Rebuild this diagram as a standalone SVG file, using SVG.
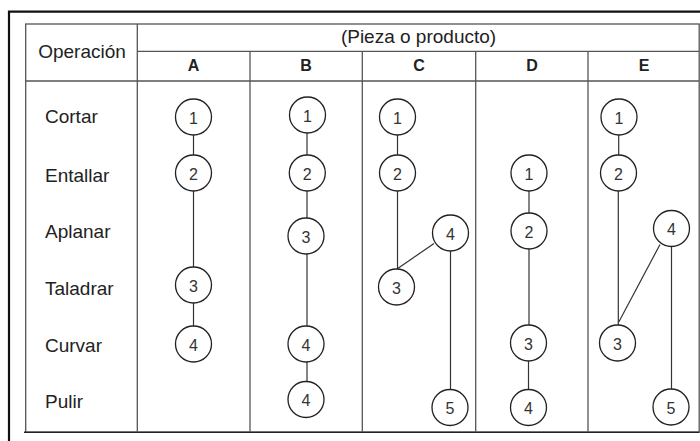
<svg xmlns="http://www.w3.org/2000/svg" width="700" height="441" viewBox="0 0 700 441">
<style>
.frame{fill:none;stroke:#111;stroke-width:2.2}
.grid{fill:none;stroke:#555;stroke-width:1.3}
.lbl{font-family:"Liberation Sans",Arial,sans-serif;font-size:19px;fill:#222}
.hdr{font-family:"Liberation Sans",Arial,sans-serif;font-size:16px;font-weight:bold;fill:#222;text-anchor:middle}
.node circle{fill:#fff;stroke:#222;stroke-width:1.3}
.node text{font-family:"Liberation Sans",Arial,sans-serif;font-size:16px;fill:#333;text-anchor:middle;dominant-baseline:central}
.conn line{stroke:#333;stroke-width:1.2}
</style>
<rect width="700" height="441" fill="#fff"/>
<path class="frame" d="M9,441 V11.7 H700"/>
<g id="table">
<rect class="grid" x="25.7" y="24" width="673.5" height="408.3"/>
<line class="grid" x1="24" y1="432.3" x2="699" y2="432.3" style="stroke:#222;stroke-width:1.6"/>
<line class="grid" x1="137.3" y1="24" x2="137.3" y2="432.3"/>
<line class="grid" x1="137.3" y1="51.3" x2="699" y2="51.3"/>
<line class="grid" x1="25.7" y1="81" x2="699" y2="81"/>
<line class="grid" x1="250" y1="51.3" x2="250" y2="432.3"/>
<line class="grid" x1="362.3" y1="51.3" x2="362.3" y2="432.3"/>
<line class="grid" x1="475.7" y1="51.3" x2="475.7" y2="432.3"/>
<line class="grid" x1="588" y1="51.3" x2="588" y2="432.3"/>
</g>
<g id="headers">
<text class="lbl" x="82" y="57.5" text-anchor="middle">Operación</text>
<text class="lbl" x="418.5" y="42.7" text-anchor="middle">(Pieza o producto)</text>
<text class="hdr" x="193.5" y="70.7">A</text>
<text class="hdr" x="306" y="70.7">B</text>
<text class="hdr" x="419" y="70.7">C</text>
<text class="hdr" x="532" y="70.7">D</text>
<text class="hdr" x="644" y="70.7">E</text>
</g>
<g id="rows">
<text class="lbl" x="45" y="122.5">Cortar</text>
<text class="lbl" x="45" y="181.5">Entallar</text>
<text class="lbl" x="45" y="238">Aplanar</text>
<text class="lbl" x="45" y="295">Taladrar</text>
<text class="lbl" x="45" y="351.5">Curvar</text>
<text class="lbl" x="45" y="407.5">Pulir</text>
</g>
<g id="connectors" class="conn">
<line x1="193.5" y1="135" x2="193.5" y2="155"/>
<line x1="193.5" y1="191" x2="193.5" y2="267"/>
<line x1="193.5" y1="303" x2="193.5" y2="326"/>
<line x1="307" y1="133" x2="307" y2="155"/>
<line x1="307" y1="191" x2="307" y2="218"/>
<line x1="307" y1="254" x2="307" y2="326"/>
<line x1="307" y1="362" x2="307" y2="381"/>
<line x1="397.5" y1="135" x2="397.5" y2="155"/>
<line x1="397.5" y1="191" x2="397.5" y2="269"/>
<line x1="397" y1="269" x2="434" y2="243.5"/>
<line x1="450.5" y1="251" x2="450.5" y2="389"/>
<line x1="529" y1="191" x2="529" y2="213"/>
<line x1="529" y1="249" x2="529" y2="325"/>
<line x1="528.5" y1="361" x2="528.5" y2="389"/>
<line x1="618.7" y1="135" x2="618.7" y2="155"/>
<line x1="618.3" y1="191" x2="618.3" y2="325"/>
<line x1="618.8" y1="322" x2="660" y2="244.5"/>
<line x1="671.5" y1="246" x2="671.5" y2="389"/>
</g>
<g id="A1" class="node"><circle cx="193.5" cy="117" r="18"/><text x="193.5" y="118">1</text></g>
<g id="A2" class="node"><circle cx="193.5" cy="173" r="18"/><text x="193.5" y="174">2</text></g>
<g id="A3" class="node"><circle cx="193.5" cy="285" r="18"/><text x="193.5" y="286">3</text></g>
<g id="A4" class="node"><circle cx="193.5" cy="344" r="18"/><text x="193.5" y="345">4</text></g>
<g id="B1" class="node"><circle cx="307.5" cy="115" r="18"/><text x="307.5" y="116">1</text></g>
<g id="B2" class="node"><circle cx="307.3" cy="173" r="18"/><text x="307.3" y="174">2</text></g>
<g id="B3" class="node"><circle cx="306" cy="236" r="18"/><text x="306" y="237">3</text></g>
<g id="B4a" class="node"><circle cx="306" cy="344" r="18"/><text x="306" y="345">4</text></g>
<g id="B4b" class="node"><circle cx="306" cy="399.5" r="18"/><text x="306" y="400.5">4</text></g>
<g id="C1" class="node"><circle cx="397.5" cy="117" r="18"/><text x="397.5" y="118">1</text></g>
<g id="C2" class="node"><circle cx="397.5" cy="173" r="18"/><text x="397.5" y="174">2</text></g>
<g id="C3" class="node"><circle cx="396.5" cy="287" r="18"/><text x="396.5" y="288">3</text></g>
<g id="C4" class="node"><circle cx="450.5" cy="233" r="18"/><text x="450.5" y="234">4</text></g>
<g id="C5" class="node"><circle cx="450" cy="407.5" r="18"/><text x="450" y="408.5">5</text></g>
<g id="D1" class="node"><circle cx="529" cy="173" r="18"/><text x="529" y="174">1</text></g>
<g id="D2" class="node"><circle cx="529" cy="231" r="18"/><text x="529" y="232">2</text></g>
<g id="D3" class="node"><circle cx="528.5" cy="343" r="18"/><text x="528.5" y="344">3</text></g>
<g id="D4" class="node"><circle cx="528.5" cy="407.5" r="18"/><text x="528.5" y="408.5">4</text></g>
<g id="E1" class="node"><circle cx="619" cy="117" r="18"/><text x="619" y="118">1</text></g>
<g id="E2" class="node"><circle cx="618.5" cy="173" r="18"/><text x="618.5" y="174">2</text></g>
<g id="E3" class="node"><circle cx="617.5" cy="343" r="18"/><text x="617.5" y="344">3</text></g>
<g id="E4" class="node"><circle cx="671.5" cy="228.5" r="18"/><text x="671.5" y="229.5">4</text></g>
<g id="E5" class="node"><circle cx="671" cy="407" r="18"/><text x="671" y="408">5</text></g>
</svg>
